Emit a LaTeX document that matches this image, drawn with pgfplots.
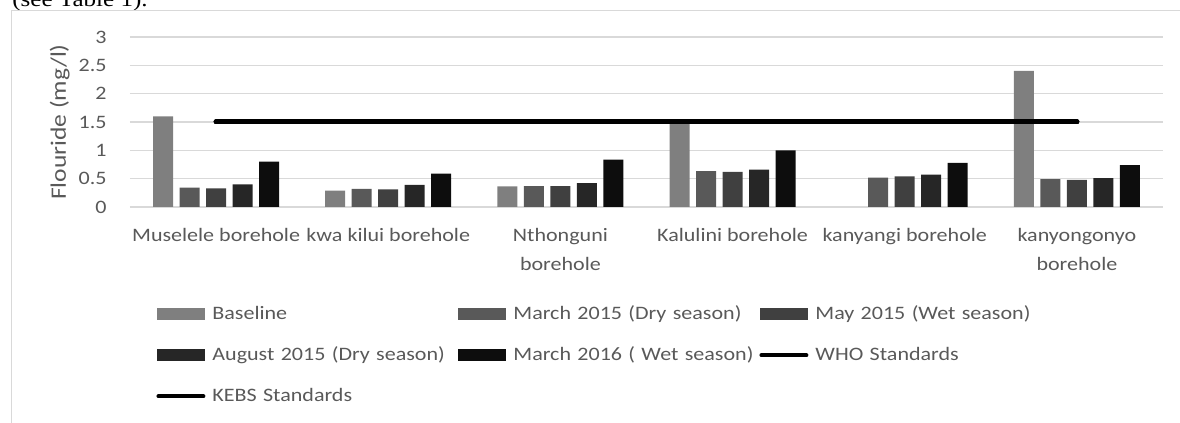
\documentclass[border=0pt]{standalone}
\usepackage{fontspec}
\setmainfont{Carlito}[FakeStretch=1.16]
\newfontfamily\docserif{Liberation Serif}[FakeStretch=1.16]
\usepackage{pgfplots}
\pgfplotsset{compat=1.18}
\definecolor{txtgray}{HTML}{595959}
\definecolor{gridgray}{HTML}{D9D9D9}
\definecolor{cBase}{HTML}{7F7F7F}
\definecolor{cMar15}{HTML}{595959}
\definecolor{cMay15}{HTML}{404040}
\definecolor{cAug15}{HTML}{262626}
\definecolor{cMar16}{HTML}{0D0D0D}

\pgfplotsset{
  swatch/.style={legend image code/.code={\fill[##1] (0pt,-3pt) rectangle (24pt,3pt);}},
  stdline/.style={black, line width=2.5pt, line cap=round, mark=none,
    legend image code/.code={\draw[##1, line width=2pt] (0.5pt,0pt) -- (23pt,0pt);}},
}

\begin{document}
\begin{tikzpicture}
\useasboundingbox (0,0) rectangle (590pt,211.5pt);
% cropped line of the page above the chart
\node[anchor=base west, inner sep=0pt, font=\docserif\fontsize{10.8}{12}\selectfont] at (6pt,208pt) {(see Table 1).};
% chart area frame
\draw[gridgray, line width=0.6pt] (5.75pt,-5pt) -- (5.75pt,206.2pt) -- (600pt,206.2pt);

\begin{axis}[
  at={(65pt,108pt)}, anchor=south west,
  scale only axis,
  width=516.5pt, height=85pt,
  xmin=-0.5, xmax=5.5,
  ymin=0, ymax=3,
  ytick={0,0.5,1,1.5,2,2.5,3},
  xtick={0,1,2,3,4,5},
  xticklabels={Muselele borehole, kwa kilui borehole, {Nthonguni\\borehole}, Kalulini borehole, kanyangi borehole, {kanyongonyo\\borehole}},
  axis line style={draw=none},
  tick style={draw=none},
  ymajorgrids,
  major grid style={gridgray, line width=0.8pt},
  /pgf/number format/assume math mode=true,
  ticklabel style={font=\fontsize{9.5}{14.5}\selectfont, text=txtgray},
  yticklabel style={inner sep=0pt, xshift=-11.5pt},
  xticklabel style={align=center, inner sep=0pt, anchor=north, yshift=-10.5pt},
  ylabel={Flouride (mg/l)},
  every axis y label/.style={at={(axis description cs:-0.068,0.5)}, rotate=90, anchor=center},
  ylabel style={font=\fontsize{11}{13}\selectfont, text=txtgray},
  legend columns=3,
  legend style={at={(axis description cs:0.0252,-0.576)}, anchor=north west,
    draw=none, fill=none, inner sep=0pt,
    font=\fontsize{9.5}{11}\selectfont, text=txtgray,
    nodes={inner sep=0pt, text width=121pt, align=left, text height=7pt, text depth=2pt},
    row sep=11.5pt,
    /tikz/every odd column/.append style={column sep=3.5pt},
    /tikz/every even column/.append style={column sep=2pt}},
]
\addplot[ybar, bar width=10pt, bar shift=-26.5pt, fill=cBase, draw=none, swatch] coordinates {
(0,1.6) (1,0.29) (2,0.365) (3,1.5) (5,2.4)
};
\addlegendentry{Baseline}
\addplot[ybar, bar width=10pt, bar shift=-13.25pt, fill=cMar15, draw=none, swatch] coordinates {
(0,0.34) (1,0.32) (2,0.37) (3,0.635) (4,0.52) (5,0.49)
};
\addlegendentry{March 2015 (Dry season)}
\addplot[ybar, bar width=10pt, bar shift=0pt, fill=cMay15, draw=none, swatch] coordinates {
(0,0.33) (1,0.31) (2,0.37) (3,0.62) (4,0.54) (5,0.48)
};
\addlegendentry{May 2015 (Wet season)}
\addplot[ybar, bar width=10pt, bar shift=13.25pt, fill=cAug15, draw=none, swatch] coordinates {
(0,0.40) (1,0.39) (2,0.42) (3,0.66) (4,0.57) (5,0.51)
};
\addlegendentry{August 2015 (Dry season)}
\addplot[ybar, bar width=10pt, bar shift=26.5pt, fill=cMar16, draw=none, swatch] coordinates {
(0,0.8) (1,0.59) (2,0.835) (3,1.0) (4,0.78) (5,0.74)
};
\addlegendentry{March 2016 ( Wet season)}
\addplot[stdline] coordinates {
(0,1.5) (1,1.5) (2,1.5) (3,1.5) (4,1.5) (5,1.5)
};
\addlegendentry{WHO Standards}
\addplot[stdline] coordinates {
(0,1.5) (1,1.5) (2,1.5) (3,1.5) (4,1.5) (5,1.5)
};
\addlegendentry{KEBS Standards}
\end{axis}
\end{tikzpicture}
\end{document}
